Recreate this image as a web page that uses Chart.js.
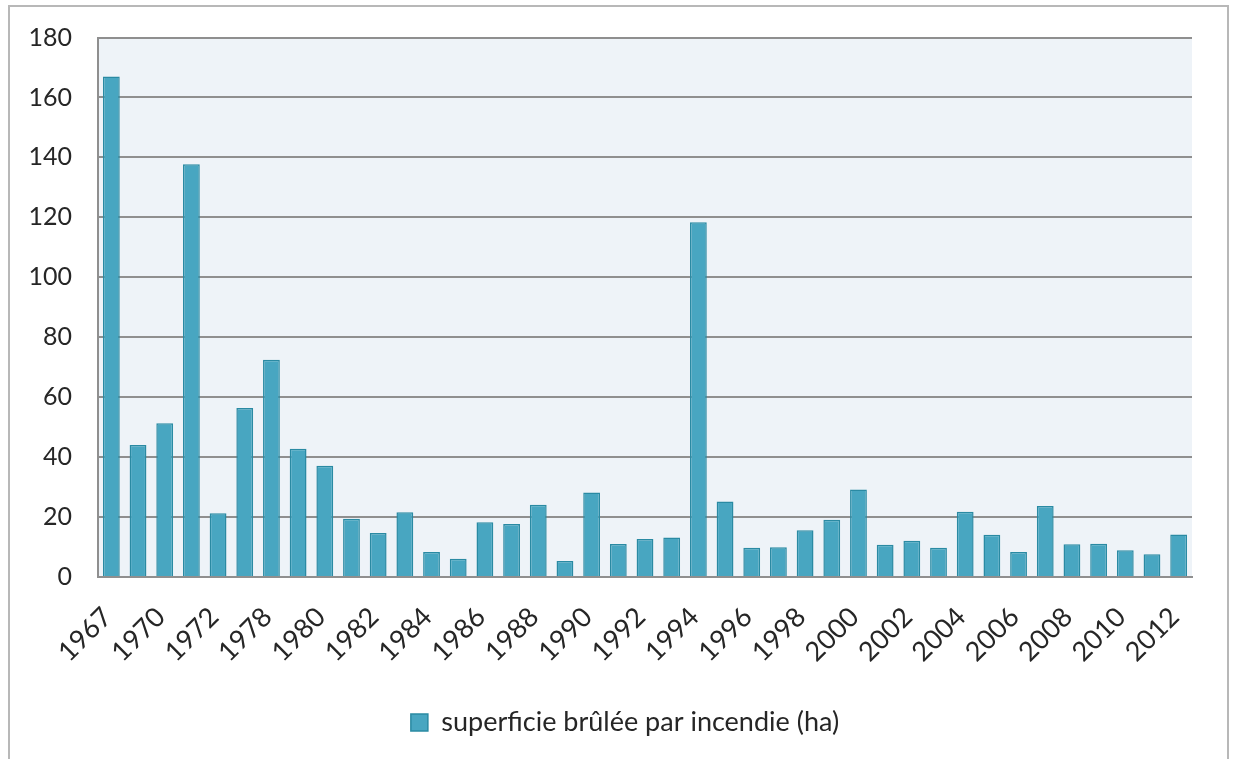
<!DOCTYPE html>
<html>
<head>
<meta charset="utf-8">
<script src="https://cdn.jsdelivr.net/npm/chart.js@4"></script>
<style>
  html, body { margin: 0; padding: 0; background: #fff; overflow: hidden; }
  #cadre { position: absolute; left: 8px; top: 5px; width: 1221px; height: 780px; border: 2px solid #b8b8b8; box-sizing: border-box; pointer-events: none; }
  #zone { position: absolute; left: 0; top: 0; width: 1233px; height: 759px; }
</style>
</head>
<body>
<div id="zone"><canvas id="graphique" width="1233" height="759"></canvas></div>
<div id="cadre"></div>
<script>
// années (une étiquette sur deux est affichée)
const annees = [
  "1967", "1969", "1970", "1971", "1972", "1977", "1978", "1979",
  "1980", "1981", "1982", "1983", "1984", "1985", "1986", "1987",
  "1988", "1989", "1990", "1991", "1992", "1993", "1994", "1995",
  "1996", "1997", "1998", "1999", "2000", "2001", "2002", "2003",
  "2004", "2005", "2006", "2007", "2008", "2009", "2010", "2011", "2012"
];

// superficie brûlée par incendie (ha)
const superficie = [
  167, 44, 51.3, 137.7, 21.3, 56.4, 72.5, 42.8,
  37.1, 19.4, 14.7, 21.6, 8.3, 6.1, 18.3, 17.7,
  24.1, 5.3, 28.2, 11, 12.7, 13.2, 118.4, 25.2,
  9.8, 9.9, 15.6, 19.1, 29.2, 10.8, 12.1, 9.8,
  21.8, 14.1, 8.3, 23.7, 10.9, 11.1, 8.9, 7.6, 14.2
];

const graduations = [0, 20, 40, 60, 80, 100, 120, 140, 160, 180];

const police = "Lato, 'Open Sans', sans-serif";

const fondZone = {
  id: "fondZone",
  beforeDraw(chart) {
    const { ctx, chartArea: a } = chart;
    ctx.save();
    ctx.fillStyle = "#eef3f8";
    ctx.fillRect(a.left, a.top, a.right - a.left, a.bottom - a.top);
    ctx.restore();
  }
};

// la légende est un peu décalée vers la droite dans l'original
const decalLegende = {
  id: "decalLegende",
  afterLayout(chart) {
    chart.legend.left += 29;
    chart.legend.right += 29;
  }
};

const ctx = document.getElementById("graphique").getContext("2d");

new Chart(ctx, {
  type: "bar",
  data: {
    labels: annees,
    datasets: [{
      label: "superficie brûlée par incendie (ha)",
      data: superficie,
      backgroundColor: "#48a6c1",
      borderColor: "#2a8aa3",
      borderWidth: 1.5,
      barPercentage: 0.63,
      categoryPercentage: 1
    }]
  },
  options: {
    responsive: false,
    animation: false,
    devicePixelRatio: 1,
    layout: { padding: { top: 37.5, right: 41, left: 0, bottom: 13 } },
    plugins: {
      tooltip: { enabled: false },
      legend: {
        position: "bottom",
        labels: {
          font: { family: police, size: 27 },
          color: "#262626",
          boxWidth: 17,
          boxHeight: 17,
          padding: 10
        }
      }
    },
    scales: {
      x: {
        grid: { display: false },
        border: { display: true, color: "#8f8f8f", width: 2 },
        ticks: {
          autoSkip: false,
          minRotation: 45,
          maxRotation: 45,
          padding: 16,
          labelOffset: -4,
          color: "#262626",
          font: { family: police, size: 27 },
          callback: (v, i) => (i % 2 === 0 ? annees[i] : "")
        },
        afterFit(scale) { scale.height = 122; }
      },
      y: {
        min: 0,
        max: 180,
        afterBuildTicks(scale) { scale.ticks = graduations.map(v => ({ value: v })); },
        grid: { color: "#8f8f8f", lineWidth: 2, drawTicks: false },
        border: { display: true, color: "#8f8f8f", width: 2 },
        ticks: {
          padding: 26,
          color: "#262626",
          font: { family: police, size: 25 }
        },
        afterFit(scale) {
          scale.width = 98;
          scale.paddingTop = 0;
          scale.paddingBottom = 0;
        }
      }
    }
  },
  plugins: [fondZone, decalLegende]
});
</script>
</body>
</html>
